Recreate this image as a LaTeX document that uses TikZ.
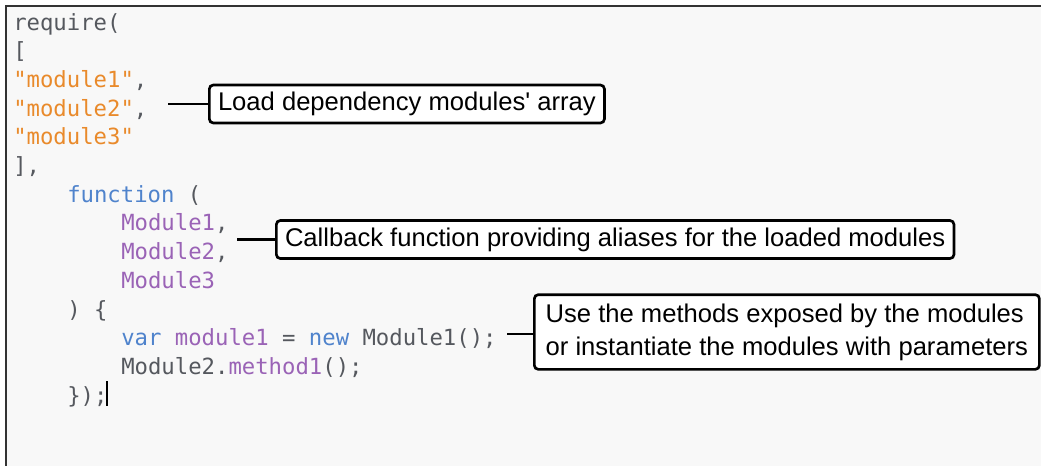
\documentclass[tikz,border=0pt]{standalone}
\usepackage{fontspec}
\usepackage{tikz}
\usetikzlibrary{positioning,calc}
\newfontfamily\codefont{DejaVu Sans Mono}[Ligatures=TeXOff]
\newfontfamily\notefont{Liberation Sans}[Ligatures=TeXOff]
\definecolor{codeplain}{HTML}{55585E}
\definecolor{codestr}{HTML}{E98A2B}
\definecolor{codekw}{HTML}{4F83CC}
\definecolor{codeid}{HTML}{9A63B6}
\definecolor{codebg}{HTML}{F8F8F8}
\newcommand{\strc}[1]{\textcolor{codestr}{#1}}
\newcommand{\kwc}[1]{\textcolor{codekw}{#1}}
\newcommand{\idc}[1]{\textcolor{codeid}{#1}}
\tikzset{
  codeline/.style={anchor=base west, inner sep=0pt, text=codeplain,
    font=\codefont\fontsize{16.7}{20}\selectfont},
  note/.style={draw=black, fill=white, line width=2pt, rounded corners=3pt,
    anchor=west, inner xsep=6.5pt, inner ysep=0pt, align=left,
    font=\notefont\fontsize{19.2}{24.75}\selectfont},
  noteline/.style={draw=black, line width=1.9pt}
}
\begin{document}
\begin{tikzpicture}[x=0.75pt,y=-0.75pt]
% ==========================================
\clip (0,0) rectangle (1041,465);
\fill[white] (0,0) rectangle (1041,465);
\draw[fill=codebg, draw=black!80, line width=1.1pt] (6,6) rectangle (1070,490);
%
% code lines
\node[codeline] (req)    at (13,30)    {require(};
\node[codeline] (arropen) at (13,58.7) {[};
\node[codeline] (strA)   at (13,87.4)  {\strc{"module1"},};
\node[codeline] (strB)   at (13,116.1) {\strc{"module2"},};
\node[codeline] (strC)   at (13,144.8) {\strc{"module3"}};
\node[codeline] (arrclose) at (13,173.5) {],};
\node[codeline] (fnhead) at (67,202.2) {\kwc{function} (};
\node[codeline] (argA)   at (121,230.9) {\idc{Module1},};
\node[codeline] (argB)   at (121,259.6) {\idc{Module2},};
\node[codeline] (argC)   at (121,288.3) {\idc{Module3}};
\node[codeline] (fnbody) at (67,317)   {) \{};
\node[codeline] (varline) at (121,345.7) {\kwc{var} \idc{module1} = \kwc{new} Module1();};
\node[codeline] (callline) at (121,374.4) {Module2.\idc{method1}();};
\node[codeline] (fnend)  at (67,403.1) {\});};
\draw[black, line width=1pt] (107,381) -- (107,406);% cursor
%
% notes
\node[note, minimum height=28.5pt] (loadnote) at (208,104)
  {Load dependency modules' array};
\node[note, minimum height=28.5pt] (aliasnote) at (275,239.5)
  {Callback function providing aliases for the loaded modules};
\node[note, minimum height=56pt, inner xsep=8.5pt] (usenote) at (533,332)
  {Use the methods exposed by the modules\\or instantiate the modules with parameters};
%
\coordinate (loadtail)  at (168,104);
\coordinate (aliastail) at (237,239.5);
\coordinate (usetail)   at (507,334);
\draw[noteline] (loadtail) -- (loadnote.west |- loadtail);
\draw[noteline] (aliastail) -- (aliasnote.west |- aliastail);
\draw[noteline] (usetail) -- (usenote.west |- usetail);
% =============================================
\end{tikzpicture}
\end{document}
